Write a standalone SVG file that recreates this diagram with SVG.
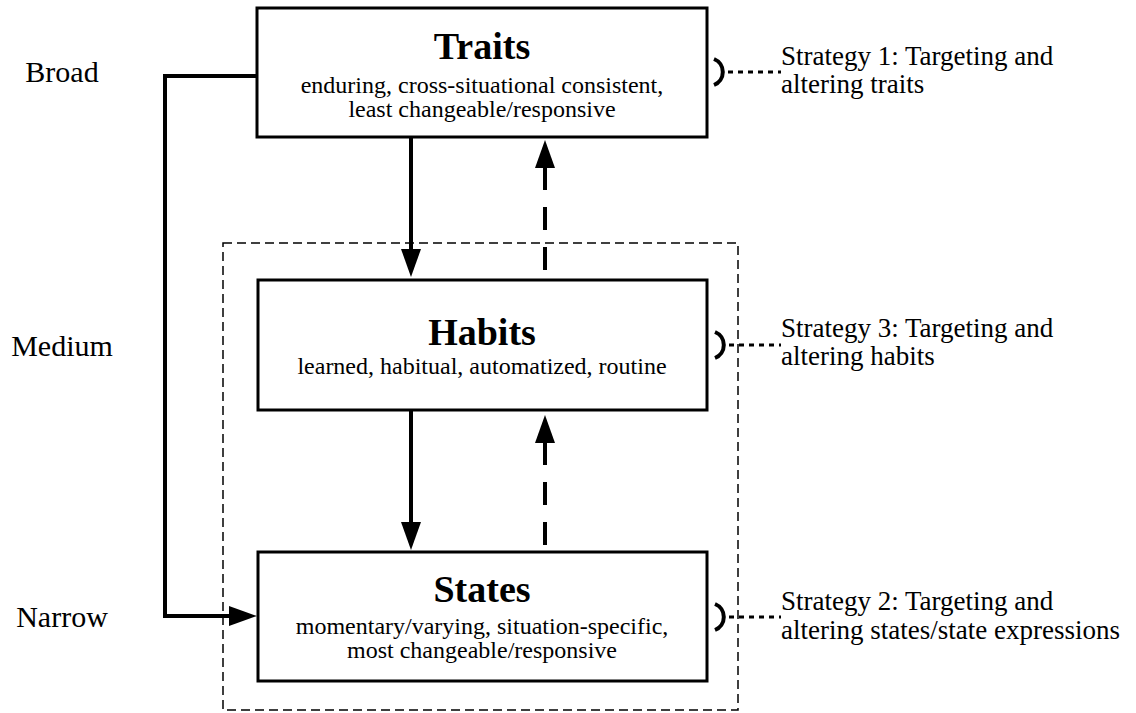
<svg xmlns="http://www.w3.org/2000/svg" width="1136" height="713" viewBox="0 0 1136 713">
<style>
.box{fill:#fff;stroke:#000;stroke-width:3}
.title{font-family:"Liberation Serif","Times New Roman",serif;font-weight:bold;font-size:38px;text-anchor:middle}
.sub{font-family:"Liberation Serif","Times New Roman",serif;font-size:24px;text-anchor:middle}
.lvl{font-family:"Liberation Serif","Times New Roman",serif;font-size:30px;text-anchor:middle}
.strat{font-family:"Liberation Serif","Times New Roman",serif;font-size:27px}
.solid{fill:none;stroke:#000;stroke-width:4}
.dash{fill:none;stroke:#000;stroke-width:4;stroke-dasharray:23 17}
.group{fill:none;stroke:#000;stroke-width:1.5;stroke-dasharray:9 5}
.brk{fill:none;stroke:#000;stroke-width:4}
.dot{fill:none;stroke:#000;stroke-width:3;stroke-dasharray:5 5}
</style>
<defs>
<marker id="ah" markerUnits="userSpaceOnUse" markerWidth="28" markerHeight="20" refX="0" refY="10" orient="auto" viewBox="0 0 28 20">
<path d="M0,0 L28,10 L0,20 z" fill="#000"/>
</marker>
</defs>
<rect width="1136" height="713" fill="#fff"/>
<rect id="habits-scope" class="group" x="223" y="243" width="515" height="467"/>
<g id="connectors">
<path class="solid" d="M257,76 H165 V616 H229" marker-end="url(#ah)"/>
<path class="solid" d="M411,137 V249" marker-end="url(#ah)"/>
<path class="solid" d="M411,410 V522" marker-end="url(#ah)"/>
<path class="dash" d="M545,270 V168" marker-end="url(#ah)"/>
<path class="dash" d="M545,545 V443" marker-end="url(#ah)"/>
<path class="brk" d="M714,59 A14,14 0 0 1 714,85"/>
<path class="dot" d="M728,72 H781"/>
<path class="brk" d="M715,332 A14,14 0 0 1 715,358"/>
<path class="dot" d="M729,345 H781"/>
<path class="brk" d="M715,604 A14,14 0 0 1 715,630"/>
<path class="dot" d="M729,617 H781"/>
</g>
<g id="traits">
<rect class="box" x="257" y="8" width="450" height="129"/>
<text class="title" x="482" y="59">Traits</text>
<text class="sub" x="482" y="93">enduring, cross-situational consistent,</text>
<text class="sub" x="482" y="117">least changeable/responsive</text>
</g>
<g id="habits">
<rect class="box" x="258" y="280" width="449" height="130"/>
<text class="title" x="482" y="345">Habits</text>
<text class="sub" x="482" y="374">learned, habitual, automatized, routine</text>
</g>
<g id="states">
<rect class="box" x="258" y="552" width="449" height="129"/>
<text class="title" x="482" y="602">States</text>
<text class="sub" x="482" y="634">momentary/varying, situation-specific,</text>
<text class="sub" x="482" y="658">most changeable/responsive</text>
</g>
<g id="levels">
<text class="lvl" x="62" y="82">Broad</text>
<text class="lvl" x="62" y="356">Medium</text>
<text class="lvl" x="62" y="627">Narrow</text>
</g>
<g id="strategy1">
<text class="strat" x="781" y="65">Strategy 1: Targeting and</text>
<text class="strat" x="781" y="93">altering traits</text>
</g>
<g id="strategy3">
<text class="strat" x="781" y="337">Strategy 3: Targeting and</text>
<text class="strat" x="781" y="365">altering habits</text>
</g>
<g id="strategy2">
<text class="strat" x="781" y="610">Strategy 2: Targeting and</text>
<text class="strat" x="781" y="639">altering states/state expressions</text>
</g>
</svg>
